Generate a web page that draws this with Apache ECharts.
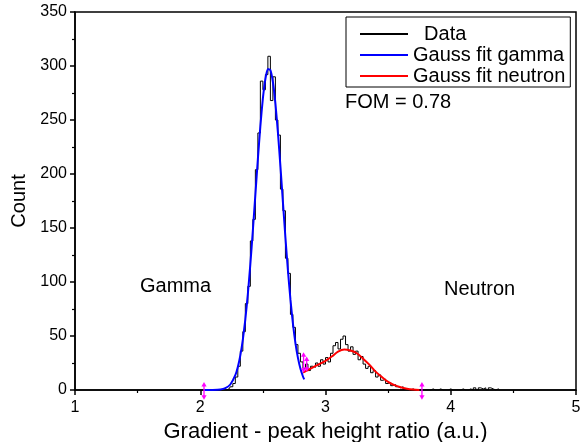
<!DOCTYPE html>
<html>
<head>
<meta charset="utf-8">
<script src="https://cdn.jsdelivr.net/npm/echarts@6/dist/echarts.min.js"></script>
<style>
  html, body { margin: 0; padding: 0; background: #fff; }
  #chart { width: 585px; height: 442px; }
</style>
</head>
<body>
<div id="chart"></div>
<script>
// Histogram of the gradient / peak-height ratio (bin width 0.02, first bin centred at 2.21)
const binFirstCenter = 2.21;
const binWidth = 0.02;
const counts = [
  0, 1, 3, 6, 12, 22, 36, 54, 80, 96,
  138, 158, 204, 238, 286, 278, 292, 309, 268, 290,
  250, 236, 186, 166, 122, 108, 70, 58, 42, 34,
  26, 20, 24, 18, 22, 21, 25, 22, 28, 24,
  30, 26, 34, 41, 44, 38, 47, 50, 42, 36,
  40, 33, 36, 28, 31, 24, 20, 22, 16, 18,
  12, 14, 9, 10, 6, 7, 4, 5, 3, 2,
  3, 1, 1, 0, 1, 0, 0, 0, 0, 0,
  0, 0, 1, 0, 0, 1, 0, 0, 0, 1,
  0, 0, 0, 0, 1, 0, 0, 1, 0, 2,
  0, 2, 1, 2, 0, 2, 1, 0, 1, 0
];

// Gaussian fit of the gamma peak
const gammaFitX = [2.03, 2.10, 2.16, 2.20, 2.24, 2.28, 2.30, 2.32, 2.34, 2.36, 2.38, 2.40,
  2.42, 2.44, 2.46, 2.48, 2.50, 2.52, 2.54, 2.56, 2.58, 2.60, 2.62, 2.64, 2.66, 2.68,
  2.70, 2.72, 2.74, 2.76, 2.78, 2.80, 2.82, 2.83];
const gammaFitY = [0, 0.1, 0.5, 1.7, 5.1, 13.7, 21.3, 32.1, 46.7, 65.5, 88.9, 116.5,
  147.7, 180.7, 213.8, 244.4, 270, 288, 297.2, 296.2, 285.2, 265.4, 238.6, 207.3, 174, 141.2,
  110.7, 83.9, 61.4, 43.4, 29.7, 19.6, 12.5, 9.9];

// Gaussian fit of the neutron peak
const neutronFitX = [2.82, 2.86, 2.90, 2.95, 3.00, 3.05, 3.10, 3.15, 3.20, 3.25,
  3.30, 3.35, 3.40, 3.45, 3.50, 3.55, 3.60, 3.65, 3.70, 3.75];
const neutronFitY = [16, 18.5, 21, 24, 27, 31, 35.5, 37.5, 36.5, 34,
  29, 23.5, 17, 12, 7.5, 4.5, 2.5, 1.2, 0.4, 0];

// Fit-range markers (x, lower end, upper end)
const markerX = [2.03, 2.825, 2.85, 3.77];
const markerLow = [-9, 16, 17, -9];
const markerHigh = [7.5, 35, 31, 7.5];

const xTicks = [1, 2, 3, 4, 5];
const yTicks = [0, 50, 100, 150, 200, 250, 300, 350];

const FONT = 'Liberation Sans, Arial, sans-serif';

const histData = counts.map((c, i) => [binFirstCenter + i * binWidth, c]);
const gammaData = gammaFitX.map((x, i) => [x, gammaFitY[i]]);
const neutronData = neutronFitX.map((x, i) => [x, neutronFitY[i]]);
const markerData = markerX.map((x, i) => [x, markerLow[i], markerHigh[i]]);

// double-headed vertical arrow between two data positions
function renderArrow(params, api) {
  const x = api.value(0);
  const p1 = api.coord([x, api.value(1)]);
  const p2 = api.coord([x, api.value(2)]);
  const top = Math.min(p1[1], p2[1]);
  const bot = Math.max(p1[1], p2[1]);
  const cx = p1[0];
  const hw = 2.6, hh = 4.5;
  const color = '#ff00ff';
  return {
    type: 'group',
    children: [
      { type: 'line', shape: { x1: cx, y1: top + hh - 1, x2: cx, y2: bot - hh + 1 },
        style: { stroke: color, lineWidth: 1.3 } },
      { type: 'polygon', shape: { points: [[cx, top], [cx - hw, top + hh], [cx + hw, top + hh]] },
        style: { fill: color } },
      { type: 'polygon', shape: { points: [[cx, bot], [cx - hw, bot - hh], [cx + hw, bot - hh]] },
        style: { fill: color } }
    ]
  };
}

const chart = echarts.init(document.getElementById('chart'), null, { renderer: 'canvas' });

const axisCommon = {
  axisLine: { show: true, onZero: false, lineStyle: { color: '#000', width: 1.5 } },
  axisTick: { show: true, inside: false, length: 5, lineStyle: { color: '#000', width: 1.5 } },
  minorTick: { show: true, splitNumber: 2, length: 3, lineStyle: { color: '#000', width: 1.2 } },
  splitLine: { show: false },
  minorSplitLine: { show: false },
  axisLabel: { color: '#000', fontSize: 16, fontFamily: FONT, margin: 8 }
};

chart.setOption({
  animation: false,
  backgroundColor: '#fff',
  grid: {
    left: 75, right: 9, top: 12, bottom: 52,
    outerBoundsMode: 'none',
    containLabel: false,
    show: true, borderColor: '#000', borderWidth: 1.5
  },
  xAxis: Object.assign({}, axisCommon, {
    type: 'value',
    min: xTicks[0], max: xTicks[xTicks.length - 1], interval: 1,
    name: 'Gradient - peak height ratio (a.u.)',
    nameLocation: 'middle', nameGap: 30,
    nameTextStyle: { color: '#000', fontSize: 22, fontFamily: FONT },
    axisLabel: Object.assign({}, axisCommon.axisLabel, { margin: 10 })
  }),
  yAxis: Object.assign({}, axisCommon, {
    type: 'value',
    min: yTicks[0], max: yTicks[yTicks.length - 1], interval: 50,
    name: 'Count',
    nameLocation: 'middle', nameGap: 36,
    nameTextStyle: { color: '#000', fontSize: 20, fontFamily: FONT }
  }),
  legend: {
    data: ['Data', 'Gauss fit gamma', 'Gauss fit neutron'],
    orient: 'vertical',
    left: 346, top: 17,
    padding: [7, 5, 1, 14],
    itemGap: 1,
    icon: 'rect',
    itemWidth: 48, itemHeight: 2,
    borderColor: '#000', borderWidth: 1,
    formatter: name => name === 'Data' ? '  ' + name : name,
    textStyle: { color: '#000', fontSize: 20, fontFamily: FONT }
  },
  graphic: [
    { type: 'text', left: 345, top: 92, style: { text: 'FOM = 0.78', fill: '#000', font: '20px ' + FONT } },
    { type: 'text', left: 140, top: 276, style: { text: 'Gamma', fill: '#000', font: '20px ' + FONT } },
    { type: 'text', left: 444, top: 279, style: { text: 'Neutron', fill: '#000', font: '20px ' + FONT } }
  ],
  series: [
    {
      name: 'Data',
      type: 'line',
      step: 'middle',
      data: histData,
      symbol: 'none',
      color: '#000',
      lineStyle: { color: '#000', width: 1 },
      z: 2
    },
    {
      name: 'Gauss fit gamma',
      type: 'line',
      data: gammaData,
      symbol: 'none',
      smooth: 0.2,
      color: '#0000ff',
      lineStyle: { color: '#0000ff', width: 2 },
      z: 3
    },
    {
      name: 'Gauss fit neutron',
      type: 'line',
      data: neutronData,
      symbol: 'none',
      smooth: 0.3,
      color: '#ff0000',
      lineStyle: { color: '#ff0000', width: 2 },
      z: 3
    },
    {
      name: 'range',
      type: 'custom',
      data: markerData,
      clip: false,
      silent: true,
      z: 4,
      renderItem: renderArrow
    }
  ]
});
</script>
</body>
</html>
